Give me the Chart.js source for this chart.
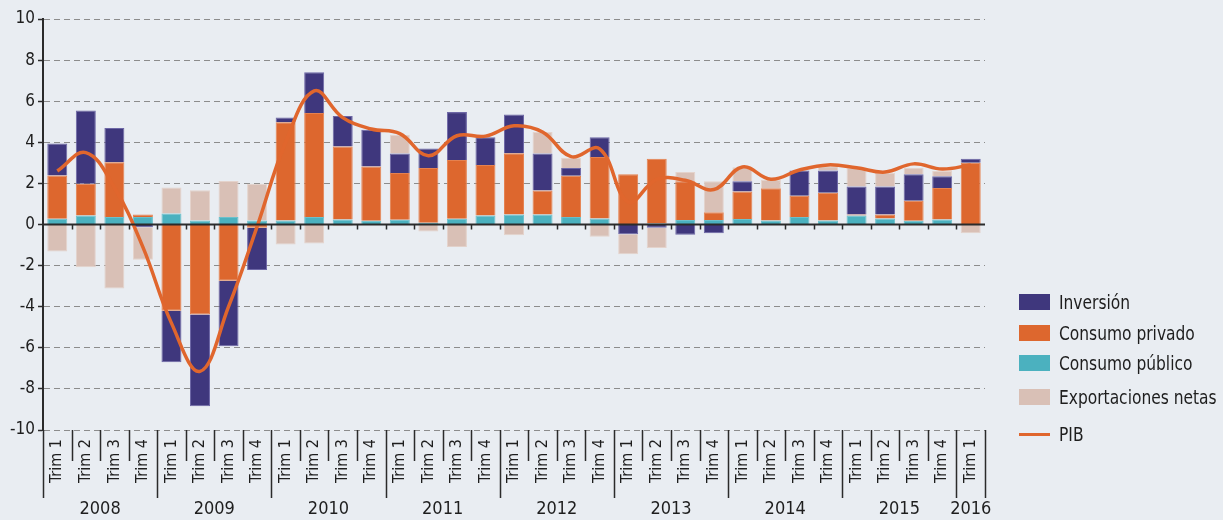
<!DOCTYPE html>
<html>
<head>
<meta charset="utf-8">
<script src="https://cdn.jsdelivr.net/npm/chart.js@4.4.1/dist/chart.umd.min.js"></script>
<style>
  body { margin: 0; background: #e9edf2; }
  #wrap { position: relative; width: 1223px; height: 520px; }
  #legend { position: absolute; left: 1019px; top: 0; font-family: 'DejaVu Sans Condensed', 'Liberation Sans Narrow', sans-serif; font-size: 20px; color: #1e1e1e; }
  .item { position: absolute; left: 0; white-space: nowrap; }
  .swatch { position: absolute; left: 0; width: 31px; }
  .text { position: absolute; left: 40px; line-height: 22px; top: -11px; transform: scaleX(0.86); transform-origin: 0 50%; }
</style>
</head>
<body>
<div id="wrap">
  <canvas id="chart" width="1223" height="520"></canvas>
  <div id="legend"></div>
</div>
<script>
var quarters = [
    'Trim 1', 'Trim 2', 'Trim 3', 'Trim 4',
    'Trim 1', 'Trim 2', 'Trim 3', 'Trim 4',
    'Trim 1', 'Trim 2', 'Trim 3', 'Trim 4',
    'Trim 1', 'Trim 2', 'Trim 3', 'Trim 4',
    'Trim 1', 'Trim 2', 'Trim 3', 'Trim 4',
    'Trim 1', 'Trim 2', 'Trim 3', 'Trim 4',
    'Trim 1', 'Trim 2', 'Trim 3', 'Trim 4',
    'Trim 1', 'Trim 2', 'Trim 3', 'Trim 4',
    'Trim 1'
];
var years = ['2008', '2009', '2010', '2011', '2012', '2013', '2014', '2015', '2016'];
var yearCenters = [1.5, 5.5, 9.5, 13.5, 17.5, 21.5, 25.5, 29.5, 32];

var inversion = [1.56, 3.57, 1.67, -0.13, -2.5, -4.46, -3.18, -2.06, 0.24, 1.99, 1.49, 1.79, 0.94, 0.95, 2.33, 1.34, 1.88, 1.79, 0.38, 0.95, -0.47, -0.16, -0.5, -0.43, 0.5, 0, 1.23, 1.08, 1.36, 1.36, 1.29, 0.57, 0.2];
var consumoPrivado = [2.1, 1.54, 2.66, 0.12, -4.2, -4.38, -2.74, -0.16, 4.78, 5.05, 3.55, 2.64, 2.28, 2.67, 2.86, 2.46, 2.98, 1.17, 2.0, 3.0, 2.43, 3.15, 1.88, 0.38, 1.33, 1.57, 1.03, 1.35, 0.05, 0.2, 0.97, 1.54, 3.0];
var consumoPublico = [0.28, 0.44, 0.37, 0.37, 0.53, 0.2, 0.36, 0.2, 0.19, 0.37, 0.24, 0.18, 0.23, 0.08, 0.28, 0.44, 0.49, 0.49, 0.37, 0.29, 0.02, 0.05, 0.22, 0.22, 0.27, 0.2, 0.37, 0.2, 0.44, 0.29, 0.18, 0.24, 0];
var exportacionesNetas = [-1.31, -2.08, -3.12, -1.58, 1.27, 1.47, 1.76, 1.78, -0.97, -0.92, -0.08, 0, 0.92, -0.34, -1.1, 0, -0.52, 1.05, 0.5, -0.6, -0.98, -0.98, 0.46, 1.5, 0.68, 0.41, 0, 0.2, 0.91, 0.66, 0.32, 0.25, -0.42];
var pib = [2.6, 3.5, 1.8, -1.1, -4.8, -7.15, -4.0, -0.1, 4.0, 6.5, 5.2, 4.65, 4.42, 3.35, 4.32, 4.3, 4.8, 4.5, 3.3, 3.68, 1.1, 2.2, 2.15, 1.7, 2.8, 2.2, 2.65, 2.9, 2.76, 2.55, 2.95, 2.7, 2.9];

var FONT = "'DejaVu Sans Condensed', 'Liberation Sans Narrow', sans-serif";
var INK = '#1e1e1e';

var series = [
    { label: 'Inversión', data: inversion, color: '#3f377d', edge: '#6d67a6' },
    { label: 'Consumo privado', data: consumoPrivado, color: '#dd672e', edge: '#e5814f' },
    { label: 'Consumo público', data: consumoPublico, color: '#4bb1bf', edge: '#6cc0cb' },
    { label: 'Exportaciones netas', data: exportacionesNetas, color: '#d9c0b6', edge: '#e4d3cc' }
];
// stacking order from the base outward: público, privado, inversión, exportaciones
var stackOrder = [2, 1, 0, 3];

// zero line plus separators under the axis, short between quarters, long between years
var decor = {
    id: 'decor',
    afterDatasetsDraw: function (chart) {
        var ctx = chart.ctx;
        var x = chart.scales.x;
        var y = chart.scales.y;
        var area = chart.chartArea;
        var y0 = y.getPixelForValue(0);
        ctx.save();
        ctx.strokeStyle = '#2b2b2b';
        ctx.lineWidth = 2;
        ctx.beginPath();
        ctx.moveTo(area.left, y0);
        ctx.lineTo(area.right, y0);
        ctx.stroke();
        ctx.lineWidth = 1.5;
        for (var i = 0; i <= quarters.length; i++) {
            var bx = Math.round(x.getPixelForValue(i - 0.5)) + 0.5;
            var yearEdge = (i === quarters.length || quarters[i] === 'Trim 1');
            ctx.beginPath();
            if (i > 0 && i < quarters.length) {
                ctx.moveTo(bx, y0);
                ctx.lineTo(bx, y0 + 5);
            }
            ctx.moveTo(bx, area.bottom);
            ctx.lineTo(bx, area.bottom + (yearEdge ? 68 : 31));
            ctx.stroke();
        }
        ctx.restore();
    }
};

var datasets = [{
    type: 'line',
    label: 'PIB',
    data: pib,
    borderColor: '#e0662d',
    borderWidth: 3.5,
    pointRadius: 0,
    tension: 0.4,
    fill: false
}];
stackOrder.forEach(function (k) {
    var s = series[k];
    datasets.push({
        type: 'bar',
        label: s.label,
        data: s.data,
        backgroundColor: s.color,
        borderColor: s.edge,
        borderWidth: 1,
        barPercentage: 0.7,
        categoryPercentage: 1
    });
});

var ctx = document.getElementById('chart');
var chart = new Chart(ctx, {
    data: { labels: quarters, datasets: datasets },
    plugins: [decor],
    options: {
        responsive: false,
        animation: false,
        layout: { padding: { top: 19, right: 238, left: 0, bottom: 0 } },
        plugins: { legend: { display: false }, tooltip: { enabled: false } },
        scales: {
            x: {
                stacked: true,
                offset: true,
                grid: { display: false, drawTicks: false },
                border: { display: false },
                ticks: {
                    color: INK,
                    font: { family: FONT, size: 16 },
                    minRotation: 90,
                    maxRotation: 90,
                    autoSkip: false,
                    padding: 9
                },
                afterFit: function (scale) { scale.height = 62; }
            },
            x2: {
                type: 'linear',
                position: 'bottom',
                weight: 1,
                min: -0.5,
                max: quarters.length - 0.5,
                grid: { display: false, drawTicks: false },
                border: { display: false },
                afterBuildTicks: function (scale) {
                    scale.ticks = yearCenters.map(function (v) { return { value: v }; });
                },
                ticks: {
                    color: INK,
                    font: { family: FONT, size: 18 },
                    maxRotation: 0,
                    autoSkip: false,
                    padding: 7,
                    callback: function (v) { return years[yearCenters.indexOf(v)]; }
                },
                afterFit: function (scale) { scale.height = 28; }
            },
            y: {
                stacked: true,
                min: -10,
                max: 10,
                ticks: {
                    stepSize: 2,
                    color: INK,
                    font: { family: FONT, size: 17 },
                    padding: 3
                },
                grid: {
                    color: '#8c8c8c',
                    lineWidth: 1,
                    tickLength: 5,
                    tickColor: '#2b2b2b',
                    tickWidth: 1.5
                },
                border: { display: true, color: '#2b2b2b', width: 2, dash: [6, 4] },
                afterFit: function (scale) { scale.width = 43; }
            }
        }
    }
});

// legend on the right
var legend = document.getElementById('legend');
var rows = [302, 333, 363, 397];
series.forEach(function (s, i) {
    var item = document.createElement('div');
    item.className = 'item';
    item.style.top = rows[i] + 'px';
    item.innerHTML = '<div class="swatch" style="top:-8px;height:16px;background:' + s.color + '"></div>' +
        '<div class="text">' + s.label + '</div>';
    legend.appendChild(item);
});
var pibItem = document.createElement('div');
pibItem.className = 'item';
pibItem.style.top = '434px';
pibItem.innerHTML = '<div class="swatch" style="top:-1.5px;height:3px;background:#e0662d"></div>' +
    '<div class="text">PIB</div>';
legend.appendChild(pibItem);
</script>
</body>
</html>
